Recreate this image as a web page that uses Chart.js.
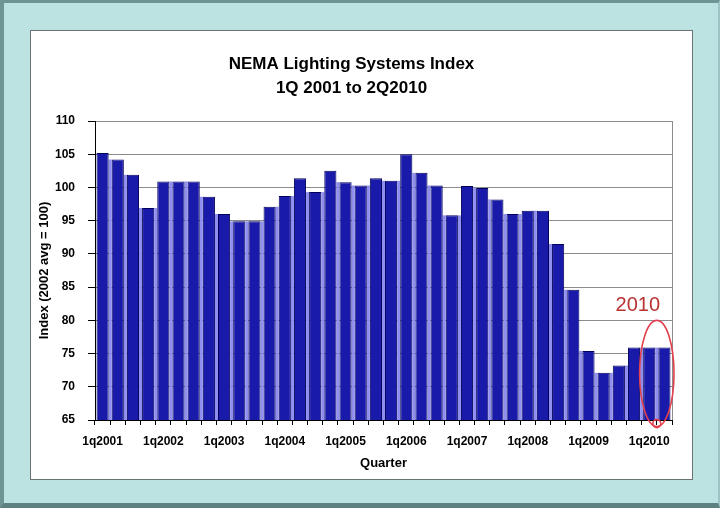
<!DOCTYPE html>
<html>
<head>
<meta charset="utf-8">
<script src="https://cdn.jsdelivr.net/npm/chart.js@4.4.1/dist/chart.umd.min.js"></script>
<style>
html,body{margin:0;padding:0;}
body{width:720px;height:508px;background:#bde2e2;position:relative;overflow:hidden;}
#frame{position:absolute;left:0;top:0;width:720px;height:508px;box-sizing:border-box;border-top:3px solid #6f9494;border-left:4px solid #6f9494;border-bottom:5px solid #5f8080;border-right:2px solid #9cc4c4;}
#panel{position:absolute;left:30px;top:30px;width:661px;height:448px;background:#fff;border:1px solid #6a7474;}
#panel canvas{display:block;}
</style>
</head>
<body>
<div id="frame"></div>
<div id="panel"><canvas id="mycanvas"></canvas></div>
<script>
// quarter labels, 1q2001 .. 2q2010
var quarters = [
	'1q2001','2q2001','3q2001','4q2001',
	'1q2002','2q2002','3q2002','4q2002',
	'1q2003','2q2003','3q2003','4q2003',
	'1q2004','2q2004','3q2004','4q2004',
	'1q2005','2q2005','3q2005','4q2005',
	'1q2006','2q2006','3q2006','4q2006',
	'1q2007','2q2007','3q2007','4q2007',
	'1q2008','2q2008','3q2008','4q2008',
	'1q2009','2q2009','3q2009','4q2009',
	'1q2010','2q2010'
];
var indexValues = [
	105.2, 104.2, 101.9, 96.9,
	100.9, 100.9, 100.9, 98.6,
	96.0, 94.9, 94.9, 97.1,
	98.7, 101.4, 99.3, 102.5,
	100.8, 100.3, 101.4, 101.0,
	105.0, 102.2, 100.3, 95.8,
	100.2, 99.9, 98.2, 96.0,
	96.5, 96.5, 91.5, 84.6,
	75.4, 72.1, 73.2, 75.9,
	75.9, 75.9
];
var yMin = 65, yMax = 110, yStep = 5;
var titleLines = ['NEMA Lighting Systems Index', '1Q 2001 to 2Q2010'];
var yTitle = 'Index (2002 avg = 100)';
var xTitle = 'Quarter';
var noteText = '2010';
var noteTop = 80, noteBottom = 64;

Chart.defaults.font.family = '"Liberation Sans", Arial, sans-serif';
Chart.defaults.color = '#000';

// light stripes between neighbouring bars
var gapFill = {
	id: 'gapFill',
	beforeDatasetsDraw: function(chart) {
		var meta = chart.getDatasetMeta(0);
		var ctx = chart.ctx;
		var bottom = chart.chartArea.bottom;
		ctx.save();
		ctx.fillStyle = '#8f8ff2';
		for (var i = 0; i < meta.data.length - 1; i++) {
			var a = meta.data[i], b = meta.data[i + 1];
			var left = a.x + a.width / 2, right = b.x - b.width / 2;
			var top = Math.max(a.y, b.y);
			ctx.fillRect(left, top, right - left, bottom - top);
		}
		ctx.restore();
	}
};

// right border of plot area + red 2010 note
var extras = {
	id: 'extras',
	afterDraw: function(chart) {
		var ctx = chart.ctx, area = chart.chartArea;
		ctx.save();
		ctx.strokeStyle = '#8c8c8c';
		ctx.lineWidth = 1;
		ctx.beginPath();
		ctx.moveTo(area.right + 0.5, area.top);
		ctx.lineTo(area.right + 0.5, area.bottom);
		ctx.stroke();

		var meta = chart.getDatasetMeta(0);
		var n = meta.data.length;
		var last = meta.data[n - 1], prev = meta.data[n - 2];
		var cx = (last.x + prev.x) / 2;
		var rx = (last.x - prev.x) + 2;
		var yTop = chart.scales.y.getPixelForValue(noteTop);
		var yBot = chart.scales.y.getPixelForValue(noteBottom);
		ctx.strokeStyle = '#e2404e';
		ctx.lineWidth = 1.6;
		ctx.beginPath();
		ctx.ellipse(cx, (yTop + yBot) / 2, rx, (yBot - yTop) / 2, 0, 0, Math.PI * 2);
		ctx.stroke();
		ctx.beginPath();
		ctx.arc(cx, yBot - 3, 4, 0, Math.PI * 2);
		ctx.stroke();

		ctx.fillStyle = '#b83232';
		ctx.font = '20px "Liberation Sans", Arial, sans-serif';
		ctx.textAlign = 'center';
		ctx.textBaseline = 'alphabetic';
		ctx.fillText(noteText, cx - 19, yTop - 9);
		ctx.restore();
	}
};

var chartdata = {
	labels: quarters,
	datasets: [{
		label: 'Index',
		data: indexValues,
		backgroundColor: '#1a1aaa',
		borderColor: '#00005a',
		borderWidth: 1,
		barPercentage: 0.8,
		categoryPercentage: 1.0
	}]
};

var ctx = document.getElementById('mycanvas');
var barGraph = new Chart(ctx, {
	type: 'bar',
	data: chartdata,
	plugins: [gapFill, extras],
	options: {
		responsive: true,
		maintainAspectRatio: false,
		animation: false,
		layout: { padding: { left: 0, right: 20, top: 0, bottom: 0 } },
		plugins: {
			legend: { display: false },
			tooltip: { enabled: false },
			title: {
				display: true,
				text: titleLines,
				color: '#000',
				font: { size: 17, weight: 'bold', lineHeight: '24px' },
				padding: { top: 21, bottom: 21 }
			}
		},
		scales: {
			x: {
				grid: { display: true, drawOnChartArea: false, offset: true, tickLength: 5, color: '#000' },
				border: { display: true, color: '#000' },
				ticks: {
					autoSkip: false,
					maxRotation: 0,
					padding: 9,
					font: { size: 12, weight: 'bold' },
					callback: function(v, i) { return i % 4 === 0 ? quarters[i] : ''; }
				},
				title: { display: true, text: xTitle, font: { size: 13, weight: 'bold' }, padding: { top: 0, bottom: 8 } },
				afterFit: function(s) { s.height = 59; }
			},
			y: {
				min: yMin,
				max: yMax,
				ticks: { stepSize: yStep, padding: 13, font: { size: 12, weight: 'bold' } },
				grid: { color: '#8c8c8c', tickLength: 7, tickColor: '#000' },
				border: { color: '#000' },
				title: { display: true, text: yTitle, font: { size: 13, weight: 'bold' }, padding: { top: 6, bottom: 0 } },
				afterFit: function(s) { s.width = 64; }
			}
		}
	}
});
</script>
</body>
</html>
